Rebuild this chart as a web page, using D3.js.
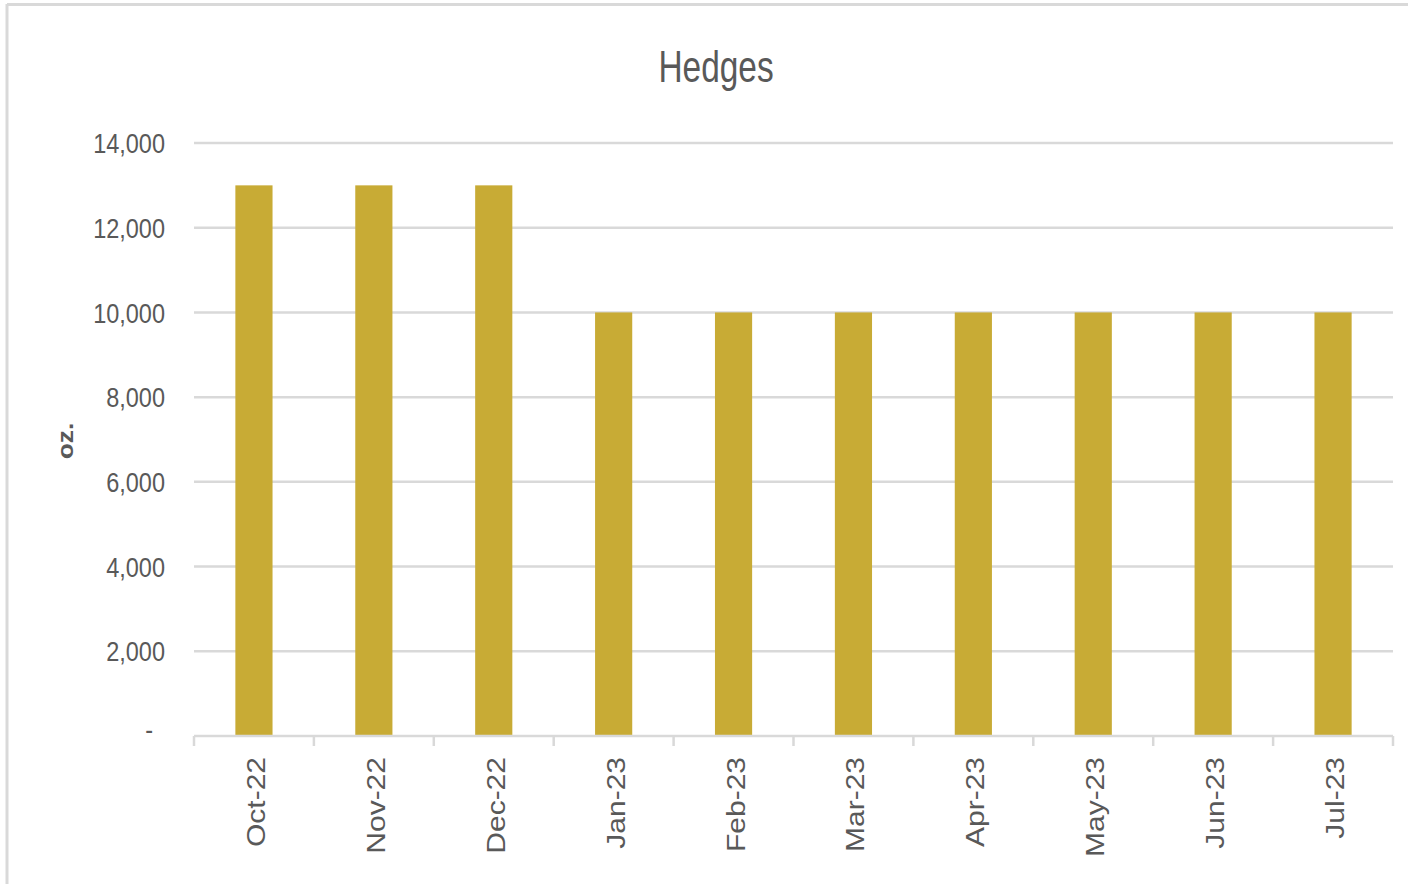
<!DOCTYPE html>
<html>
<head>
<meta charset="utf-8">
<script src="https://cdn.jsdelivr.net/npm/d3@7.9.0/dist/d3.min.js"></script>
<style>
  html, body { margin: 0; padding: 0; background: #fff; }
  svg { display: block; }
</style>
</head>
<body>
<div id="chart"></div>
<script>
const months = ['Oct-22', 'Nov-22', 'Dec-22', 'Jan-23', 'Feb-23', 'Mar-23', 'Apr-23', 'May-23', 'Jun-23', 'Jul-23'];
const hedges = [13000, 13000, 13000, 10000, 10000, 10000, 10000, 10000, 10000, 10000];
const yTicks = [0, 2000, 4000, 6000, 8000, 10000, 12000, 14000];

const width = 1408;
const height = 884;
const margin = { top: 143, right: 15, bottom: 148, left: 194 };

const svg = d3.select('#chart')
  .append('svg')
  .attr('width', width)
  .attr('height', height);

// outer frame (only left and top edges visible)
svg.append('line')
  .attr('x1', 7).attr('x2', 7).attr('y1', 4).attr('y2', height)
  .attr('stroke', '#d9d9d9').attr('stroke-width', 3);
svg.append('line')
  .attr('x1', 7).attr('x2', width).attr('y1', 4.5).attr('y2', 4.5)
  .attr('stroke', '#d9d9d9').attr('stroke-width', 3);

const x = d3.scaleBand()
  .domain(months)
  .range([margin.left, width - margin.right])
  .paddingInner(0.69)
  .paddingOuter(0.345);

const y = d3.scaleLinear()
  .domain([0, 14000])
  .range([height - margin.bottom, margin.top]);

// gridlines
svg.append('g')
  .selectAll('line')
  .data(yTicks.filter(d => d > 0))
  .join('line')
  .attr('x1', margin.left)
  .attr('x2', width - margin.right)
  .attr('y1', d => y(d))
  .attr('y2', d => y(d))
  .attr('stroke', '#d9d9d9')
  .attr('stroke-width', 2.5);

// y tick labels (tall, narrow look of the original)
const fmt = d3.format(',');
svg.append('g')
  .selectAll('text')
  .data(yTicks)
  .join('text')
  .attr('transform', d => `translate(${d === 0 ? 153 : 165},${y(d)}) scale(1,1.2)`)
  .attr('dy', d => d === 0 ? '0.1em' : '0.36em')
  .attr('text-anchor', 'end')
  .attr('fill', '#595959')
  .style('font-family', '"Liberation Sans", Arial, sans-serif')
  .style('font-size', '23.5px')
  .text(d => d === 0 ? '-' : fmt(d));

// bars
svg.append('g')
  .selectAll('rect')
  .data(months.map((m, i) => ({ month: m, value: hedges[i] })))
  .join('rect')
  .attr('x', d => x(d.month))
  .attr('y', d => y(d.value))
  .attr('width', x.bandwidth())
  .attr('height', d => y(0) - y(d.value))
  .attr('fill', '#c8ab35');

// x axis line and category ticks
const step = x.step();
const axisY = y(0);
svg.append('line')
  .attr('x1', margin.left).attr('x2', width - margin.right)
  .attr('y1', axisY).attr('y2', axisY)
  .attr('stroke', '#d9d9d9').attr('stroke-width', 2.5);

const bounds = d3.range(months.length + 1).map(i => margin.left + i * step);
svg.append('g')
  .selectAll('line')
  .data(bounds)
  .join('line')
  .attr('x1', d => d).attr('x2', d => d)
  .attr('y1', axisY).attr('y2', axisY + 10)
  .attr('stroke', '#d9d9d9').attr('stroke-width', 2.5);

// x labels, rotated
svg.append('g')
  .selectAll('text')
  .data(months)
  .join('text')
  .attr('transform', d => `translate(${x(d) + x.bandwidth() / 2 + 2},${axisY + 21}) rotate(-90) scale(1.2,1)`)
  .attr('dy', '0.36em')
  .attr('text-anchor', 'end')
  .attr('fill', '#595959')
  .style('font-family', '"Liberation Sans", Arial, sans-serif')
  .style('font-size', '25px')
  .text(d => d);

// y axis title
svg.append('text')
  .attr('transform', 'translate(65,441) rotate(-90) scale(1.2,1)')
  .attr('dy', '0.36em')
  .attr('text-anchor', 'middle')
  .attr('fill', '#595959')
  .style('font-family', '"Liberation Sans", Arial, sans-serif')
  .style('font-size', '22px')
  .style('font-weight', 'bold')
  .text('oz.');

// title
svg.append('text')
  .attr('transform', 'translate(716,82) scale(0.76,1)')
  .attr('text-anchor', 'middle')
  .attr('fill', '#595959')
  .style('font-family', '"Liberation Sans", Arial, sans-serif')
  .style('font-size', '44px')
  .text('Hedges');
</script>
</body>
</html>
